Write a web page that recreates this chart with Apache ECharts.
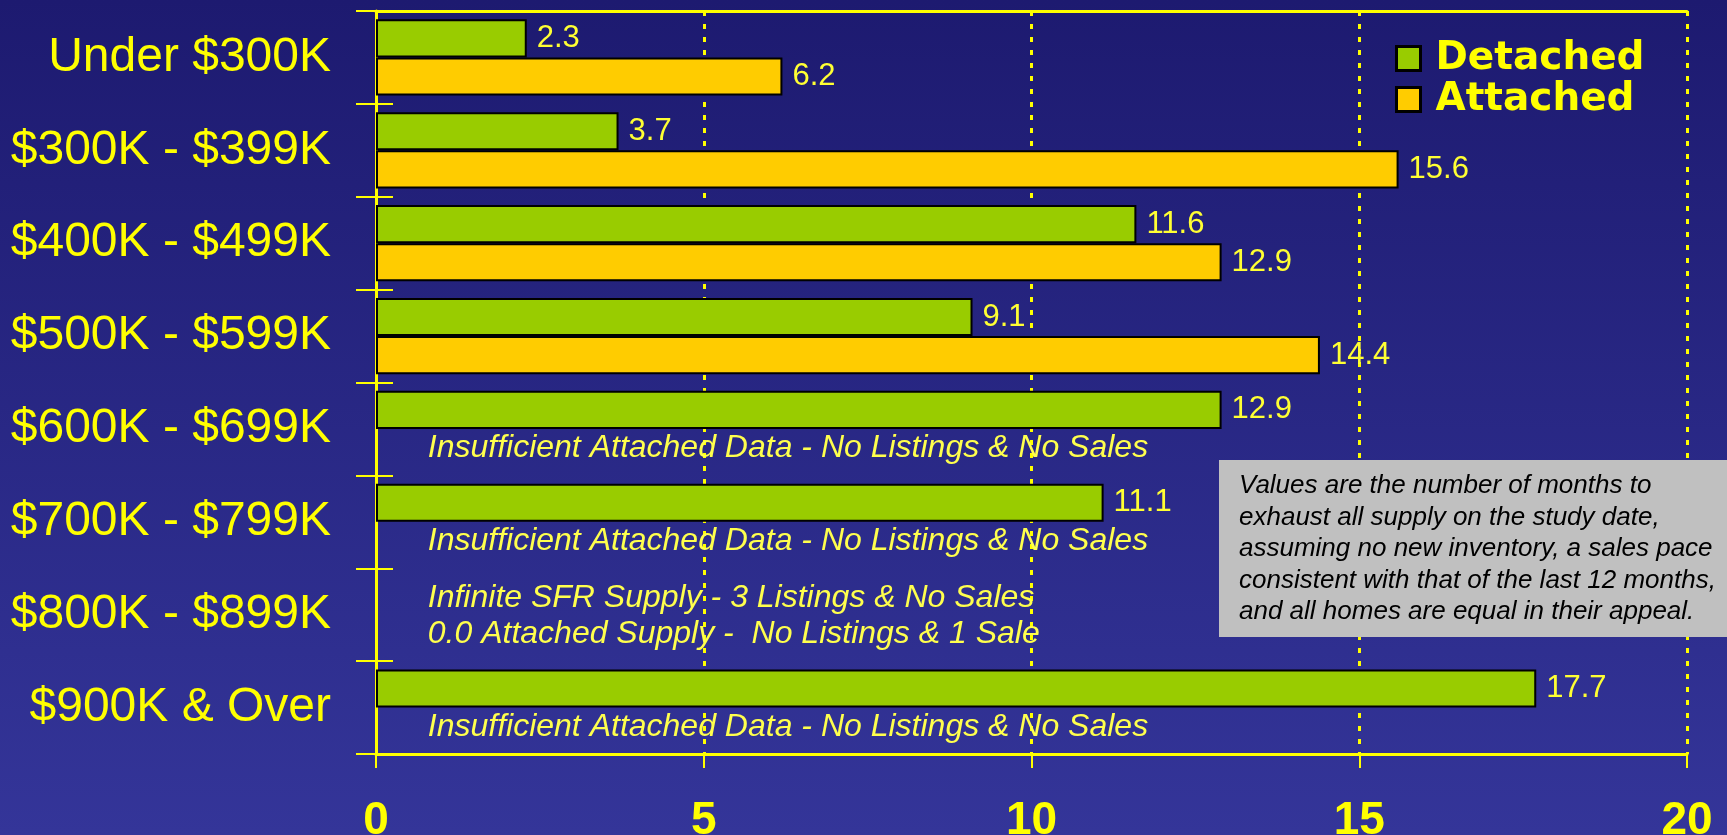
<!DOCTYPE html>
<html>
<head>
<meta charset="utf-8">
<title>Months of Supply by Price Range</title>
<script src="https://cdn.jsdelivr.net/npm/echarts@6/dist/echarts.min.js"></script>
<style>
  html, body { margin: 0; padding: 0; width: 100%; height: 100%; overflow: hidden; }
  #chart { width: 1727px; height: 835px; }
</style>
</head>
<body>
<div id="chart"></div>
<script>
// Price bands (top to bottom)
const categories = [
  'Under $300K', '$300K - $399K', '$400K - $499K', '$500K - $599K',
  '$600K - $699K', '$700K - $799K', '$800K - $899K', '$900K & Over'
];
// Months of supply; '-' = no bar drawn
const detached = [2.3, 3.7, 11.6, 9.1, 12.9, 11.1, '-', 17.7];
const attached = [6.2, 15.6, 12.9, 14.4, '-', '-', 0, '-'];
const xTicks = [0, 5, 10, 15, 20];

// Notes written in the empty bar slots: [category index, slot, text]
const slotNotes = [
  [4, 'attached', 'Insufficient Attached Data - No Listings & No Sales'],
  [5, 'attached', 'Insufficient Attached Data - No Listings & No Sales'],
  [6, 'detached', 'Infinite SFR Supply - 3 Listings & No Sales'],
  [6, 'attached', '0.0 Attached Supply -  No Listings & 1 Sale'],
  [7, 'attached', 'Insufficient Attached Data - No Listings & No Sales']
];
const noteLines = [
  'Values are the number of months to',
  'exhaust all supply on the study date,',
  'assuming no new inventory, a sales pace',
  'consistent with that of the last 12 months,',
  'and all homes are equal in their appeal.'
];

const YELLOW = '#ffff00';
const chart = echarts.init(document.getElementById('chart'));

const barLabel = {
  show: true,
  position: 'right',
  distance: 10,
  color: '#ffff33',
  fontFamily: 'Liberation Sans, Arial, sans-serif',
  fontSize: 31
};

const attachedData = attached.map(v =>
  v === 0 ? { value: 0, itemStyle: { borderWidth: 0 }, label: { show: false } } : v
);

chart.setOption({
  animation: false,
  backgroundColor: {
    type: 'linear', x: 0, y: 0, x2: 0, y2: 1,
    colorStops: [
      { offset: 0, color: '#1d1a70' },
      { offset: 1, color: '#343599' }
    ]
  },
  grid: { left: 376, right: 40, top: 11, bottom: 81, outerBoundsMode: 'none', containLabel: false },
  legend: {
    orient: 'vertical',
    left: 1390,
    top: 34,
    itemWidth: 24,
    itemHeight: 24,
    itemGap: 2,
    icon: 'rect',
    itemStyle: { borderColor: '#000', borderWidth: 3 },
    textStyle: {
      color: YELLOW,
      fontFamily: 'DejaVu Sans, sans-serif',
      fontWeight: 'bold',
      fontSize: 39,
      lineHeight: 39,
      padding: [0, 0, 0, 10]
    },
    data: ['Detached', 'Attached']
  },
  xAxis: [
    {
      type: 'value',
      min: 0, max: 20, interval: 5,
      axisLine: { show: true, lineStyle: { color: YELLOW, width: 3 } },
      axisTick: { show: true, length: 14, lineStyle: { color: YELLOW, width: 2 } },
      axisLabel: {
        color: YELLOW,
        fontFamily: 'Liberation Sans, Arial, sans-serif',
        fontWeight: 'bold',
        fontSize: 46,
        margin: 44,
        showMinLabel: true,
        showMaxLabel: true,
        formatter: v => xTicks.includes(v) ? String(v) : ''
      },
      splitLine: {
        show: true,
        lineStyle: { color: YELLOW, width: 3, type: [5, 8] }
      }
    },
    {
      // top frame line
      type: 'value', position: 'top',
      min: 0, max: 20, interval: 5,
      axisLine: { show: true, lineStyle: { color: YELLOW, width: 3 } },
      axisTick: { show: false }, axisLabel: { show: false }, splitLine: { show: false }
    }
  ],
  yAxis: [
    {
      type: 'category',
      data: categories,
      inverse: true,
      axisLine: { show: true, onZero: false, lineStyle: { color: YELLOW, width: 3 } },
      axisTick: { show: true, length: 20, lineStyle: { color: YELLOW, width: 2 } },
      axisLabel: {
        color: YELLOW,
        fontFamily: 'Liberation Sans, Arial, sans-serif',
        fontSize: 48,
        margin: 45
      },
      splitLine: { show: false }
    },
    {
      // inward half of the band ticks
      type: 'category',
      data: categories,
      inverse: true,
      position: 'left',
      axisLine: { show: false },
      axisTick: { show: true, inside: true, length: 17, lineStyle: { color: YELLOW, width: 2 } },
      axisLabel: { show: false },
      splitLine: { show: false }
    },
    {
      // right frame line
      type: 'category',
      data: categories,
      inverse: true,
      position: 'right',
      axisLine: { show: true, lineStyle: { color: YELLOW, width: 2 } },
      axisTick: { show: false }, axisLabel: { show: false }, splitLine: { show: false }
    }
  ],
  series: [
    {
      name: 'Detached',
      type: 'bar',
      data: detached,
      barCategoryGap: '18%',
      barGap: '0%',
      itemStyle: { color: '#99cc00', borderColor: '#000', borderWidth: 2 },
      label: barLabel
    },
    {
      name: 'Attached',
      type: 'bar',
      data: attachedData,
      barCategoryGap: '18%',
      barGap: '0%',
      itemStyle: { color: '#ffcc00', borderColor: '#000', borderWidth: 2 },
      label: barLabel
    }
  ]
});

// Place the slot notes and the explanatory box from axis coordinates
function drawNotes() {
  const y0 = chart.convertToPixel({ yAxisIndex: 0 }, 0);
  const y1 = chart.convertToPixel({ yAxisIndex: 0 }, 1);
  const band = y1 - y0;
  const barH = band * (1 - 0.18) / 2;
  const xStart = chart.convertToPixel({ xAxisIndex: 0 }, 0.79);

  const elements = slotNotes.map(([idx, slot, text]) => {
    const yc = chart.convertToPixel({ yAxisIndex: 0 }, idx);
    const y = slot === 'detached' ? yc - barH / 2 + 3 : yc + barH / 2 + 1;
    return {
      type: 'text',
      left: xStart,
      top: y - 17,
      z: 10,
      style: {
        text: text,
        fill: '#ffff4d',
        font: 'italic 32px "Liberation Sans", Arial, sans-serif',
        textVerticalAlign: 'top'
      }
    };
  });

  elements.push({
    type: 'rect',
    left: 1219, top: 460, z: 20,
    shape: { width: 508, height: 177 },
    style: { fill: '#c0c0c0' }
  });
  elements.push({
    type: 'text',
    left: 1239, top: 470, z: 21,
    style: {
      text: noteLines.join('\n'),
      fill: '#000',
      font: 'italic 26px "Liberation Sans", Arial, sans-serif',
      lineHeight: 31.6
    }
  });

  chart.setOption({ graphic: elements });
}
drawNotes();
</script>
</body>
</html>
